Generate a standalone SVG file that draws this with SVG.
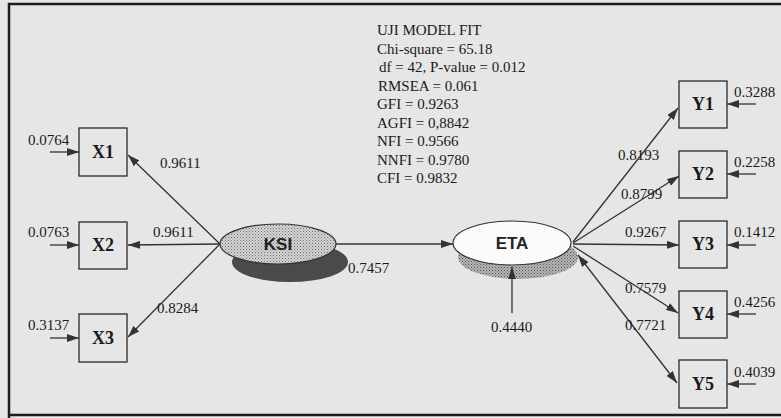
<svg xmlns="http://www.w3.org/2000/svg" width="781" height="418" viewBox="0 0 781 418">
<style>
.bg{fill:#e6e6e6}
.frame{fill:none;stroke:#1e1e1e;stroke-width:2.5}
.box{fill:none;stroke:#2a2a2a;stroke-width:1.3}
.edge{fill:none;stroke:#333;stroke-width:1.3}
.num{font-family:"Liberation Serif",serif;font-size:15px;fill:#1a1a1a}
.fit{font-family:"Liberation Serif",serif;font-size:15px;fill:#1a1a1a}
.obs{font-family:"Liberation Serif",serif;font-size:18px;font-weight:bold;fill:#1a1a1a;text-anchor:middle}
.lat{font-family:"Liberation Sans",Arial,sans-serif;font-size:17px;font-weight:bold;fill:#222;text-anchor:middle}
</style>
<defs>
<marker id="ah" markerUnits="userSpaceOnUse" markerWidth="12" markerHeight="8" refX="12" refY="4" orient="auto-start-reverse">
<path d="M0,0 L12,4 L0,8 z" fill="#333"/>
</marker>
<pattern id="stipA" width="3" height="3" patternUnits="userSpaceOnUse">
<rect width="3" height="3" fill="#d4d4d4"/>
<rect x="0" y="0" width="1" height="1" fill="#707070"/>
<rect x="1.5" y="1.5" width="1" height="1" fill="#8a8a8a"/>
</pattern>
<pattern id="stipB" width="3" height="3" patternUnits="userSpaceOnUse">
<rect width="3" height="3" fill="#b4b4b4"/>
<rect x="0" y="0" width="1" height="1" fill="#555"/>
<rect x="1.5" y="1.5" width="1" height="1" fill="#6a6a6a"/>
</pattern>
</defs>
<rect class="bg" x="0" y="0" width="781" height="418"/>
<path class="frame" d="M9,418 L9,4 L781,4 M9,415 L781,415"/>

<g id="fit-text">
<text class="fit" x="377" y="35">UJI MODEL FIT</text>
<text class="fit" x="377" y="53.5">Chi-square = 65.18</text>
<text class="fit" x="379" y="72">df = 42,  P-value = 0.012</text>
<text class="fit" x="378" y="90.5">RMSEA = 0.061</text>
<text class="fit" x="377" y="109">GFI = 0.9263</text>
<text class="fit" x="377" y="127.5">AGFI = 0,8842</text>
<text class="fit" x="377" y="146">NFI = 0.9566</text>
<text class="fit" x="377" y="164.5">NNFI = 0.9780</text>
<text class="fit" x="377" y="183">CFI = 0.9832</text>
</g>

<g id="KSI">
<ellipse cx="290" cy="262" rx="58" ry="20" fill="#4a4a4a"/>
<ellipse cx="278" cy="244" rx="58" ry="20" fill="url(#stipA)" stroke="#333" stroke-width="1.2"/>
<text class="lat" x="278" y="250">KSI</text>
</g>

<g id="ETA">
<ellipse cx="518" cy="257" rx="60" ry="22" fill="url(#stipB)"/>
<ellipse cx="512" cy="243" rx="59" ry="22" fill="#fbfbfb" stroke="#333" stroke-width="1.2"/>
<text class="lat" x="512" y="249">ETA</text>
</g>

<g id="X1"><rect class="box" x="79" y="128" width="48" height="48"/><text class="obs" x="103" y="158">X1</text></g>
<g id="X2"><rect class="box" x="79" y="222" width="48" height="47"/><text class="obs" x="103" y="251">X2</text></g>
<g id="X3"><rect class="box" x="79" y="314" width="48" height="48"/><text class="obs" x="103" y="344">X3</text></g>

<g id="Y1"><rect class="box" x="679" y="81" width="48" height="47"/><text class="obs" x="703" y="110">Y1</text></g>
<g id="Y2"><rect class="box" x="679" y="151" width="48" height="47"/><text class="obs" x="703" y="180">Y2</text></g>
<g id="Y3"><rect class="box" x="679" y="221" width="48" height="47"/><text class="obs" x="703" y="250">Y3</text></g>
<g id="Y4"><rect class="box" x="679" y="291" width="48" height="47"/><text class="obs" x="703" y="320">Y4</text></g>
<g id="Y5"><rect class="box" x="679" y="360" width="48" height="48"/><text class="obs" x="703" y="390">Y5</text></g>

<g id="connectors">
<line class="edge" x1="220" y1="244" x2="128" y2="155" marker-end="url(#ah)"/>
<line class="edge" x1="220" y1="244" x2="128" y2="245" marker-end="url(#ah)"/>
<line class="edge" x1="220" y1="244" x2="128" y2="337" marker-end="url(#ah)"/>
<line class="edge" x1="336" y1="244" x2="453" y2="244" marker-end="url(#ah)"/>
<line class="edge" x1="573" y1="242" x2="678" y2="108" marker-end="url(#ah)"/>
<line class="edge" x1="573" y1="243" x2="679" y2="176" marker-end="url(#ah)"/>
<line class="edge" x1="573" y1="244" x2="679" y2="245" marker-end="url(#ah)"/>
<line class="edge" x1="573" y1="246" x2="678" y2="313" marker-end="url(#ah)"/>
<line class="edge" x1="578" y1="255" x2="677" y2="383" marker-start="url(#ah)" marker-end="url(#ah)"/>
<line class="edge" x1="512" y1="313" x2="512" y2="267" marker-end="url(#ah)"/>
<line class="edge" x1="50" y1="152" x2="79" y2="152" marker-end="url(#ah)"/>
<line class="edge" x1="50" y1="245" x2="79" y2="245" marker-end="url(#ah)"/>
<line class="edge" x1="50" y1="338" x2="79" y2="338" marker-end="url(#ah)"/>
<line class="edge" x1="756" y1="104" x2="727" y2="104" marker-end="url(#ah)"/>
<line class="edge" x1="756" y1="174" x2="727" y2="174" marker-end="url(#ah)"/>
<line class="edge" x1="756" y1="245" x2="727" y2="245" marker-end="url(#ah)"/>
<line class="edge" x1="756" y1="314" x2="727" y2="314" marker-end="url(#ah)"/>
<line class="edge" x1="756" y1="384" x2="727" y2="384" marker-end="url(#ah)"/>
<text class="num" x="160" y="168">0.9611</text>
<text class="num" x="153" y="237">0.9611</text>
<text class="num" x="157" y="313">0.8284</text>
<text class="num" x="348" y="273">0.7457</text>
<text class="num" x="618" y="160">0.8193</text>
<text class="num" x="621" y="199">0.8799</text>
<text class="num" x="625" y="237">0.9267</text>
<text class="num" x="625" y="293">0.7579</text>
<text class="num" x="625" y="330">0.7721</text>
<text class="num" x="491" y="332">0.4440</text>
<text class="num" x="28" y="145">0.0764</text>
<text class="num" x="28" y="237">0.0763</text>
<text class="num" x="28" y="330">0.3137</text>
<text class="num" x="734" y="97">0.3288</text>
<text class="num" x="734" y="167">0.2258</text>
<text class="num" x="734" y="237">0.1412</text>
<text class="num" x="734" y="307">0.4256</text>
<text class="num" x="734" y="377">0.4039</text>
</g>
</svg>
